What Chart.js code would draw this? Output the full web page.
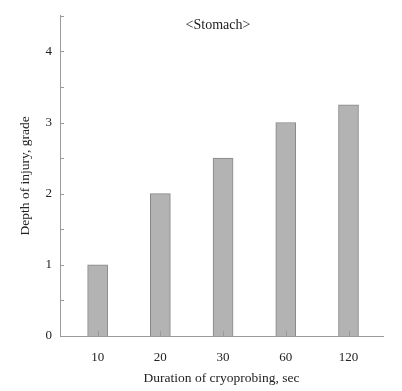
<!DOCTYPE html>
<html>
<head>
    <meta charset="utf-8">
    <title>Stomach</title>
    <script src="https://cdn.jsdelivr.net/npm/chart.js@4.4.6/dist/chart.umd.min.js"></script>
    <style>
        body { margin: 0; background: #fff; }
        #wrap { width: 402px; height: 391px; }
    </style>
</head>
<body>
    <div id="wrap"><canvas id="myChart1"></canvas></div>
    <script>
        const categories = ["10", "20", "30", "60", "120"]
        const depth = [1, 2, 2.5, 3, 3.25]
        const yTicks = [0, 0.5, 1, 1.5, 2, 2.5, 3, 3.5, 4, 4.5]
        const yLabels = [0, 1, 2, 3, 4]

        const FONT = "'Liberation Serif', 'DejaVu Serif', serif"
        const AXIS = "#9a9a9a"

        // ticks point into the plot, and the panel title sits inside it
        const innerMarks = {
            id: "innerMarks",
            afterDraw(chart) {
                const ctx = chart.ctx
                const area = chart.chartArea
                const x = chart.scales.x
                const y = chart.scales.y
                ctx.save()
                ctx.strokeStyle = AXIS
                ctx.lineWidth = 1
                ctx.beginPath()
                categories.forEach((c, i) => {
                    const px = Math.round(x.getPixelForValue(i)) + 0.5
                    ctx.moveTo(px, area.bottom)
                    ctx.lineTo(px, area.bottom - 5)
                })
                yTicks.forEach(v => {
                    const py = Math.round(y.getPixelForValue(v)) + 0.5
                    ctx.moveTo(area.left, py)
                    ctx.lineTo(area.left + 4, py)
                })
                ctx.stroke()
                ctx.fillStyle = "#222"
                ctx.font = "14px " + FONT
                ctx.textAlign = "center"
                ctx.textBaseline = "middle"
                ctx.fillText("<Stomach>", 218, 25)
                ctx.restore()
            },
        }

        const config = {
            type: "bar",
            data: {
                datasets: [{
                    data: depth.map((v, i) => ({ x: i, y: v })),
                    backgroundColor: "#b3b3b3",
                    borderColor: "#868686",
                    borderWidth: 1,
                    barThickness: 20,
                }],
            },
            plugins: [innerMarks],
            options: {
                responsive: true,
                maintainAspectRatio: false,
                animation: false,
                layout: { padding: { top: 15, right: 19, left: 0, bottom: 0 } },
                plugins: {
                    legend: { display: false },
                    tooltip: { enabled: false },
                },
                scales: {
                    x: {
                        type: "linear",
                        offset: false,
                        min: -0.6,
                        max: 4.55,
                        afterFit: s => { s.height = 55 },
                        afterBuildTicks: s => { s.ticks = categories.map((c, i) => ({ value: i })) },
                        grid: { display: false, tickLength: 0 },
                        border: { color: AXIS },
                        ticks: {
                            callback: (v) => categories[v],
                            color: "#222",
                            font: { family: FONT, size: 13 },
                            padding: 14,
                            maxRotation: 0,
                        },
                        title: {
                            display: true,
                            text: "Duration of cryoprobing, sec",
                            color: "#222",
                            font: { family: FONT, size: 13.5 },
                            padding: { top: 2 },
                        },
                    },
                    y: {
                        min: 0,
                        max: 4.5,
                        afterFit: s => { s.width = 60 },
                        afterBuildTicks: s => { s.ticks = yLabels.map(v => ({ value: v })) },
                        grid: { display: false, tickLength: 0 },
                        border: { color: AXIS },
                        ticks: {
                            color: "#222",
                            font: { family: FONT, size: 13 },
                            padding: 8,
                        },
                        title: {
                            display: true,
                            text: "Depth of injury, grade",
                            color: "#222",
                            font: { family: FONT, size: 13.5 },
                            padding: { top: 17, bottom: 0 },
                        },
                    },
                },
            },
        }
        new Chart(document.getElementById("myChart1"), config)
    </script>
</body>
</html>
